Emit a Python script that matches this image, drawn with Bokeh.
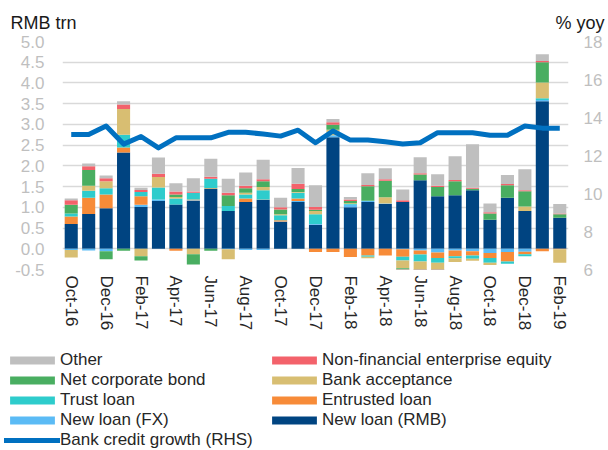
import numpy as np
from bokeh.plotting import figure
from bokeh.layouts import column
from bokeh.models import (ColumnDataSource, Range1d, LinearAxis, FixedTicker,
                          NumeralTickFormatter, Legend, LegendItem, Label)
from bokeh.embed import file_html
from bokeh.resources import INLINE

months = ["Oct-16", "Nov-16", "Dec-16", "Jan-17", "Feb-17", "Mar-17", "Apr-17", "May-17",
          "Jun-17", "Jul-17", "Aug-17", "Sep-17", "Oct-17", "Nov-17", "Dec-17", "Jan-18",
          "Feb-18", "Mar-18", "Apr-18", "May-18", "Jun-18", "Jul-18", "Aug-18", "Sep-18",
          "Oct-18", "Nov-18", "Dec-18", "Jan-19", "Feb-19"]

new_loan_rmb = [0.60, 0.84, 0.98, 2.32, 1.01, 1.15, 1.07, 1.16, 1.44, 0.91, 1.13, 1.18, 0.65, 1.13,
                0.58, 2.69, 1.00, 1.13, 1.08, 1.13, 1.65, 1.27, 1.29, 1.41, 0.70, 1.23, 0.91, 3.56, 0.75]
new_loan_fx = [-0.03, -0.04, -0.06, 0.00, 0.05, 0.04, 0.00, 0.01, 0.00, -0.01, -0.03, -0.03, 0.01, 0.02,
               0.02, 0.05, 0.06, 0.03, 0.01, -0.01, -0.04, -0.09, -0.04, -0.06, -0.10, -0.08, -0.07, 0.03, 0.00]
entrusted_loan = [0.18, 0.39, 0.33, 0.12, 0.21, 0.00, -0.05, 0.02, 0.02, 0.00, 0.08, 0.01, 0.03, 0.06,
                  -0.08, -0.08, -0.20, -0.16, -0.16, -0.18, -0.10, -0.13, -0.14, -0.10, -0.12, -0.23, -0.06, -0.06, -0.01]
trust_loan = [0.07, 0.17, 0.15, 0.31, 0.10, 0.29, 0.14, 0.16, 0.23, 0.12, 0.10, 0.22, 0.12, 0.14,
              0.23, 0.00, 0.02, -0.03, 0.00, -0.09, -0.17, -0.12, -0.05, -0.08, -0.12, -0.05, -0.05, 0.04, 0.00]
bank_acceptance = [-0.18, 0.12, 0.17, 0.62, -0.18, 0.25, 0.04, -0.13, 0.00, -0.24, 0.04, 0.08, 0.02, 0.02,
                   0.08, 0.13, 0.02, -0.04, 0.15, -0.19, -0.26, -0.23, -0.09, -0.05, -0.05, 0.00, 0.11, 0.38, -0.33]
net_corporate_bond = [0.21, 0.38, -0.19, -0.05, -0.10, 0.00, 0.06, -0.25, -0.05, 0.26, 0.11, 0.14, 0.12, 0.07,
                      0.03, 0.12, 0.05, 0.35, 0.40, -0.04, 0.14, 0.22, 0.34, 0.04, 0.15, 0.30, 0.37, 0.49, 0.08]
nonfin_equity = [0.11, 0.09, 0.07, 0.11, 0.05, 0.08, 0.07, 0.03, 0.05, 0.06, 0.06, 0.05, 0.05, 0.13,
                 0.07, 0.06, 0.04, 0.03, 0.04, 0.04, 0.03, 0.03, 0.03, 0.02, 0.03, 0.03, 0.02, 0.03, 0.02]
other = [0.04, 0.07, 0.07, 0.08, 0.05, 0.39, 0.20, 0.32, 0.43, 0.34, 0.32, 0.47, 0.23, 0.38,
         0.52, 0.08, 0.06, 0.28, 0.26, 0.26, 0.39, 0.28, 0.57, 1.05, 0.21, 0.22, 0.51, 0.16, 0.23]
bank_credit_growth = [13.1, 13.1, 13.55, 12.6, 13.0, 12.4, 12.93, 12.93, 12.93, 13.22, 13.22, 13.13, 13.02, 13.33,
                      12.67, 13.29, 12.81, 12.81, 12.72, 12.61, 12.67, 13.2, 13.2, 13.2, 13.07, 13.07, 13.55, 13.44, 13.44]

left_ticks = [-0.5, 0.0, 0.5, 1.0, 1.5, 2.0, 2.5, 3.0, 3.5, 4.0, 4.5, 5.0]
right_ticks = [6, 8, 10, 12, 14, 16, 18]

keys = ["rmb", "fx", "entr", "trust", "acc", "bond", "eq", "other"]
names = ["New loan (RMB)", "New loan (FX)", "Entrusted loan", "Trust loan", "Bank acceptance",
         "Net corporate bond", "Non-financial enterprise equity", "Other"]
series = [new_loan_rmb, new_loan_fx, entrusted_loan, trust_loan, bank_acceptance,
          net_corporate_bond, nonfin_equity, other]
colors = ["#004481", "#5BBBF5", "#F78B38", "#2ECCCC", "#D8BE72", "#49AE61", "#F3626B", "#BFBFBF"]
line_color = "#0070C0"
line_name = "Bank credit growth (RHS)"

data = {"x": list(range(len(months))), "growth": bank_credit_growth}
for k, v in zip(keys, series):
    arr = np.array(v, dtype=float)
    data[k + "_pos"] = np.clip(arr, 0, None)
    data[k + "_neg"] = np.clip(arr, None, 0)
src = ColumnDataSource(data)

FONT = "Liberation Sans"
W = 608
NOB = dict(min_border_left=0, min_border_right=0, min_border_top=0, min_border_bottom=0)

# ---------- header with the two axis titles ----------
hdr = figure(width=W, height=33, x_range=Range1d(0, W), y_range=Range1d(0, 33),
             output_backend="svg", toolbar_location=None, x_axis_type=None, y_axis_type=None,
             frame_align=False, title_location=None, **NOB)
hdr.outline_line_color = None
hdr.grid.visible = False
hdr.add_layout(Label(x=10, y=11, text="RMB trn", text_font=FONT, text_font_size="18px",
                     text_color="#1a1a1a", text_baseline="alphabetic"))
hdr.add_layout(Label(x=604, y=11, text="% yoy", text_font=FONT, text_font_size="18px",
                     text_color="#1a1a1a", text_baseline="alphabetic", text_align="right"))

# ---------- main chart ----------
p = figure(width=W, height=306, x_range=Range1d(-0.5, len(months) - 0.5),
           y_range=Range1d(-0.5, 5.0), output_backend="svg", toolbar_location=None,
           frame_align=False,
           min_border_left=62, min_border_right=40, min_border_top=8, min_border_bottom=70)
p.extra_y_ranges = {"right": Range1d(6, 18)}
p.outline_line_color = None

pos_r = p.vbar_stack([k + "_pos" for k in keys], x="x", width=0.75, fill_color=colors,
                     line_color=None, source=src)
neg_r = p.vbar_stack([k + "_neg" for k in keys], x="x", width=0.75, fill_color=colors,
                     line_color=None, source=src)
ln = p.line("x", "growth", source=src, y_range_name="right", line_width=5,
            line_color=line_color, line_join="round")

ya = p.yaxis[0]
ya.ticker = FixedTicker(ticks=left_ticks)
ya.formatter = NumeralTickFormatter(format="0.0")
ya.axis_line_color = None
ya.major_tick_line_color = None
ya.minor_tick_line_color = None
ya.major_tick_out = 0
ya.major_label_standoff = 18
ya.major_label_text_font = FONT
ya.major_label_text_font_size = "17px"
ya.major_label_text_color = "#BFBFBF"

p.ygrid.ticker = FixedTicker(ticks=left_ticks)
p.ygrid.grid_line_color = "#D9D9D9"
p.ygrid.grid_line_width = 1.5
p.xgrid.visible = False

xa = p.xaxis[0]
xa.ticker = FixedTicker(ticks=list(range(0, len(months), 2)))
xa.major_label_overrides = {i: months[i] for i in range(0, len(months), 2)}
xa.major_label_orientation = "vertical"
xa.axis_line_color = None
xa.major_tick_line_color = None
xa.minor_tick_line_color = None
xa.major_tick_out = 0
xa.major_label_standoff = 6
xa.major_label_text_font = FONT
xa.major_label_text_font_size = "17px"
xa.major_label_text_color = "#262626"

ra = LinearAxis(y_range_name="right", ticker=FixedTicker(ticks=right_ticks))
ra.axis_line_color = None
ra.major_tick_line_color = None
ra.minor_tick_line_color = None
ra.major_tick_out = 0
ra.major_label_standoff = 15
ra.major_label_text_font = FONT
ra.major_label_text_font_size = "17px"
ra.major_label_text_color = "#BFBFBF"
p.add_layout(ra, "right")

# ---------- legend panel (its glyphs read the same source, outside its view) ----------
lg = figure(width=W, height=111, x_range=Range1d(-100, -99), y_range=Range1d(-100, -99),
            output_backend="svg", toolbar_location=None, x_axis_type=None, y_axis_type=None,
            frame_align=False, title_location=None, **NOB)
lg.outline_line_color = None
lg.grid.visible = False
lr = {}
for k, name, c in zip(keys, names, colors):
    lr[name] = lg.vbar(x="x", top=k + "_pos", width=0.75, fill_color=c, line_color=None, source=src)
lr[line_name] = lg.line("x", "growth", source=src, line_width=5, line_color=line_color,
                        line_cap="round")

order = ["Other", "Net corporate bond", "Trust loan", "New loan (FX)", line_name,
         "Non-financial enterprise equity", "Bank acceptance", "Entrusted loan", "New loan (RMB)"]
legend = Legend(items=[LegendItem(label=n, renderers=[lr[n]]) for n in order],
                location=(4, 0), orientation="vertical", ncols=2,
                label_text_font=FONT, label_text_font_size="17px", label_text_color="#262626",
                glyph_width=56, glyph_height=10, label_height=18, label_width=206,
                label_standoff=0, spacing=0, padding=0, margin=0,
                border_line_color=None, background_fill_alpha=0)
lg.add_layout(legend, "center")

layout = column(hdr, p, lg, spacing=0)
open("out.html", "w").write(file_html(layout, INLINE))
